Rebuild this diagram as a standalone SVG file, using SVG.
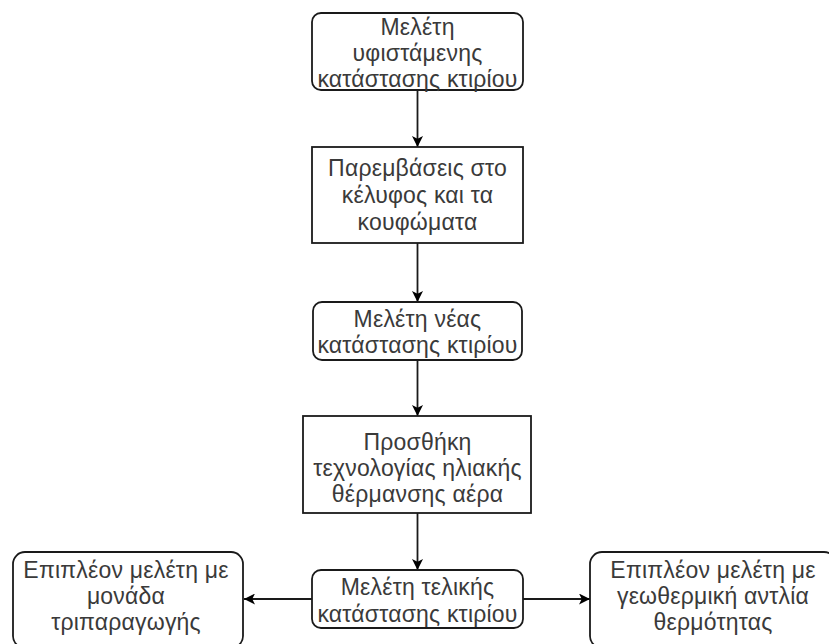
<svg xmlns="http://www.w3.org/2000/svg" width="829" height="644" viewBox="0 0 829 644">
<style>
.box{fill:#fff;stroke:#1a1a1a;stroke-width:1.8}
.t{font-family:"Liberation Sans","Open Sans",sans-serif;font-size:23px;letter-spacing:0.2px;fill:#3a3a3a;text-anchor:middle}
.c{stroke:#1a1a1a;stroke-width:1.8;fill:none;marker-end:url(#ah)}
</style>
<defs>
<marker id="ah" viewBox="0 0 10 10" refX="10" refY="5" markerWidth="12" markerHeight="11" markerUnits="userSpaceOnUse" orient="auto">
<path d="M0,0 L10,5 L0,10 L2.5,5 Z" fill="#000"/>
</marker>
</defs>
<rect width="829" height="644" fill="#fff"/>
<g id="connectors">
<path class="c" d="M417.5,90 V147"/>
<path class="c" d="M417.5,243 V302"/>
<path class="c" d="M417.5,360 V416"/>
<path class="c" d="M417.5,513 V570"/>
<path class="c" d="M312,599 H244"/>
<path class="c" d="M523,599 H590"/>
</g>
<g id="n1">
<rect class="box" x="312" y="13" width="211" height="77" rx="9"/>
<text class="t" x="417.5" y="35">Μελέτη</text>
<text class="t" x="417.5" y="61">υφιστάμενης</text>
<text class="t" x="417.5" y="87">κατάστασης κτιρίου</text>
</g>
<g id="n2">
<rect class="box" x="312" y="147" width="211" height="96"/>
<text class="t" x="417.5" y="176">Παρεμβάσεις στο</text>
<text class="t" x="417.5" y="203">κέλυφος και τα</text>
<text class="t" x="417.5" y="230">κουφώματα</text>
</g>
<g id="n3">
<rect class="box" x="313" y="302" width="209" height="58" rx="9"/>
<text class="t" x="417.5" y="327">Μελέτη νέας</text>
<text class="t" x="417.5" y="353">κατάστασης κτιρίου</text>
</g>
<g id="n4">
<rect class="box" x="303" y="416" width="228" height="97"/>
<text class="t" x="417.5" y="450">Προσθήκη</text>
<text class="t" x="417.5" y="476">τεχνολογίας ηλιακής</text>
<text class="t" x="417.5" y="502">θέρμανσης αέρα</text>
</g>
<g id="n5">
<rect class="box" x="312" y="570" width="211" height="58" rx="9"/>
<text class="t" x="417.5" y="595">Μελέτη τελικής</text>
<text class="t" x="417.5" y="622">κατάστασης κτιρίου</text>
</g>
<g id="n6">
<rect class="box" x="13" y="552" width="230" height="96" rx="12"/>
<text class="t" x="126" y="578">Επιπλέον μελέτη με</text>
<text class="t" x="126" y="604">μονάδα</text>
<text class="t" x="126" y="630">τριπαραγωγής</text>
</g>
<g id="n7">
<rect class="box" x="590" y="552" width="246" height="96" rx="12"/>
<text class="t" x="713" y="578">Επιπλέον μελέτη με</text>
<text class="t" x="713" y="604">γεωθερμική αντλία</text>
<text class="t" x="713" y="630">θερμότητας</text>
</g>
</svg>
